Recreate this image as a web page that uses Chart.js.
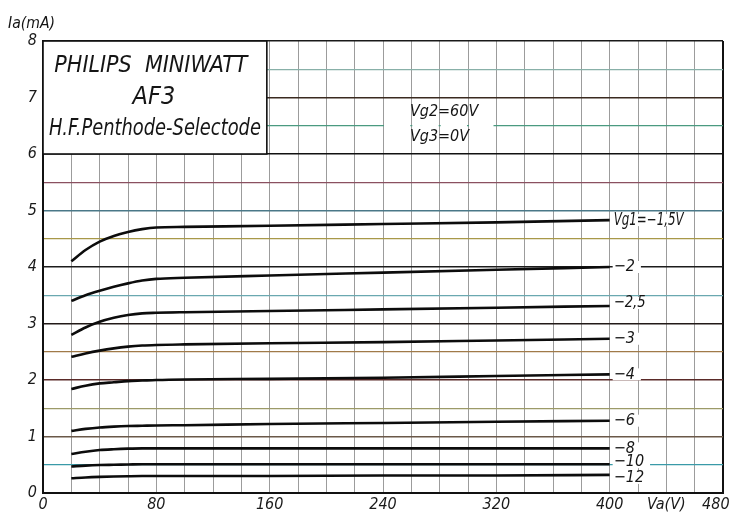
<!DOCTYPE html>
<html>
<head>
<meta charset="utf-8">
<script src="https://cdn.jsdelivr.net/npm/chart.js@4.4.0/dist/chart.umd.min.js"></script>
<style>
html, body { margin: 0; padding: 0; background: #fff; }
#wrap { width: 733px; height: 513px; }
</style>
</head>
<body>
<div id="wrap"><canvas id="chart"></canvas></div>
<script>
var FONT = "'DejaVu Sans Condensed', 'DejaVu Sans', sans-serif";

// anode voltage (V) at which the curves were read
var anodeVolts = [20, 30, 40, 50, 60, 70, 80, 100, 160, 240, 320, 400];

// anode current Ia (mA) for each grid-1 voltage
var ia_m1_5 = [4.10, 4.30, 4.45, 4.55, 4.62, 4.67, 4.70, 4.71, 4.73, 4.76, 4.79, 4.83];
var ia_m2   = [3.40, 3.50, 3.58, 3.65, 3.71, 3.76, 3.79, 3.81, 3.85, 3.90, 3.95, 4.00];
var ia_m2_5 = [2.80, 2.93, 3.03, 3.10, 3.15, 3.18, 3.19, 3.20, 3.22, 3.25, 3.28, 3.31];
var ia_m3   = [2.41, 2.47, 2.52, 2.56, 2.59, 2.61, 2.62, 2.63, 2.65, 2.67, 2.70, 2.73];
var ia_m4   = [1.84, 1.90, 1.94, 1.96, 1.98, 1.99, 2.00, 2.01, 2.02, 2.04, 2.07, 2.10];
var ia_m6   = [1.10, 1.135, 1.16, 1.175, 1.185, 1.19, 1.195, 1.20, 1.22, 1.24, 1.26, 1.28];
var ia_m8   = [0.69, 0.73, 0.76, 0.775, 0.785, 0.79, 0.79, 0.79, 0.79, 0.79, 0.79, 0.79];
var ia_m10  = [0.47, 0.485, 0.495, 0.50, 0.505, 0.51, 0.51, 0.51, 0.51, 0.51, 0.51, 0.51];
var ia_m12  = [0.26, 0.275, 0.285, 0.292, 0.297, 0.30, 0.30, 0.30, 0.30, 0.31, 0.31, 0.32];

var curves = [ia_m1_5, ia_m2, ia_m2_5, ia_m3, ia_m4, ia_m6, ia_m8, ia_m10, ia_m12];
var curveLabels = ['Vg1=\u22121,5V', '\u22122', '\u22122,5', '\u22123', '\u22124', '\u22126', '\u22128', '\u221210', '\u221212'];

// axis tick labels (the em space keeps the last label inside the page)
var xTickLabels = { 0: '0', 80: '80', 160: '160', 240: '240', 320: '320', 400: '400', 440: 'Va(V)', 480: '480\u2003' };
var yTickLabels = { 0: '0', 1: '1', 2: '2', 3: '3', 4: '4', 5: '5', 6: '6', 7: '7', 8: '8' };

var titleLines = ['PHILIPS  MINIWATT', 'AF3', 'H.F.Penthode-Selectode'];
var condLines = ['Vg2=60V', 'Vg3=0V'];

// colours of the horizontal grid lines (printed paper look)
var hGridColors = {
    '0': '#111111', '0.5': '#3a9aa8', '1': '#6a5848', '1.5': '#9c9a68',
    '2': '#5a2a28', '2.5': '#a07a48', '3': '#221a18', '3.5': '#6aa8b0',
    '4': '#1c1c1c', '4.5': '#a89848', '5': '#4a7888', '5.5': '#8a5060',
    '6': '#111111', '6.5': '#4a9a80', '7': '#3a2a20', '7.5': '#88b0a8', '8': '#1a1a1a'
};

function setFont(ctx, size) {
    ctx.font = 'italic ' + size + 'px ' + FONT;
}

function textWidth(ctx, txt, maxW) {
    var w = ctx.measureText(txt).width;
    return maxW ? Math.min(w, maxW) : w;
}

var annotations = {
    id: 'annotations',
    beforeDatasetsDraw: function(chart) {
        var ctx = chart.ctx, xs = chart.scales.x, ys = chart.scales.y;
        ctx.save();

        // type box, top left
        var l = xs.getPixelForValue(0), r = xs.getPixelForValue(158);
        var t = ys.getPixelForValue(8), b = ys.getPixelForValue(6);
        ctx.fillStyle = '#fff';
        ctx.fillRect(l, t, r - l, b - t);
        ctx.strokeStyle = '#111';
        ctx.lineWidth = 1.6;
        ctx.strokeRect(l, t, r - l, b - t);

        ctx.fillStyle = '#151515';
        ctx.textBaseline = 'middle';
        ctx.textAlign = 'center';
        var cx = (l + r) / 2;
        setFont(ctx, 23);
        ctx.fillText(titleLines[0], cx - 4, ys.getPixelForValue(7.55), 196);
        setFont(ctx, 25);
        ctx.fillText(titleLines[1], cx - 1, ys.getPixelForValue(7.0), 44);
        setFont(ctx, 23);
        ctx.fillText(titleLines[2], cx, ys.getPixelForValue(6.45), 212);

        // gap in the 6.5 line behind the screen-grid text
        var y65 = ys.getPixelForValue(6.5);
        [[240, 260], [260, 280], [280, 300], [300, 318]].forEach(function(seg) {
            var a = xs.getPixelForValue(seg[0]) + 1, z = xs.getPixelForValue(seg[1]) - (seg[1] === 318 ? 0 : 1);
            ctx.fillStyle = '#fff';
            ctx.fillRect(a, y65 - 3, z - a, 6);
        });
        ctx.fillStyle = '#151515';
        ctx.textAlign = 'left';
        setFont(ctx, 16);
        var vx = xs.getPixelForValue(259);
        ctx.fillText(condLines[0], vx, ys.getPixelForValue(6.75), 72);
        ctx.fillText(condLines[1], vx, ys.getPixelForValue(6.3), 60);
        ctx.restore();
    },
    afterDatasetsDraw: function(chart) {
        var ctx = chart.ctx, xs = chart.scales.x, ys = chart.scales.y;
        var nudge = [0, 0, -3, 0, 0, 0, 0, -2, 3];
        ctx.save();
        ctx.textBaseline = 'middle';
        ctx.textAlign = 'left';
        var lx = xs.getPixelForValue(400) + 4;
        curves.forEach(function(c, i) {
            setFont(ctx, i === 0 ? 17 : 16);
            var ly = ys.getPixelForValue(c[c.length - 1]) + nudge[i];
            var maxW = i === 0 ? 70 : 32;
            var w = textWidth(ctx, curveLabels[i], maxW);
            ctx.fillStyle = '#fff';
            ctx.fillRect(lx - 1, ly - 6, w + 7, 12);
            ctx.fillStyle = '#151515';
            ctx.fillText(curveLabels[i], lx, ly, maxW);
        });
        ctx.restore();
    },
    afterDraw: function(chart) {
        var ctx = chart.ctx;
        ctx.save();
        setFont(ctx, 16);
        ctx.fillStyle = '#151515';
        ctx.textBaseline = 'middle';
        ctx.textAlign = 'left';
        ctx.fillText('Ia(mA)', 8, 24, 47);
        ctx.restore();
    }
};

new Chart(document.getElementById('chart'), {
    type: 'line',
    data: {
        datasets: curves.map(function(c, i) {
            return {
                label: curveLabels[i],
                data: anodeVolts.map(function(v, j) { return { x: v, y: c[j] }; }),
                borderColor: '#0c0c0c',
                borderWidth: 2.6,
                pointRadius: 0,
                fill: false,
                cubicInterpolationMode: 'monotone'
            };
        })
    },
    options: {
        responsive: true,
        maintainAspectRatio: false,
        animation: false,
        layout: { padding: { top: 41, right: 10, left: 0, bottom: 0 } },
        plugins: {
            legend: { display: false },
            tooltip: { enabled: false }
        },
        scales: {
            x: {
                type: 'linear',
                min: 0,
                max: 480,
                afterFit: function(s) { s.height = 20; s.paddingLeft = 0; s.paddingRight = 0; },
                ticks: {
                    stepSize: 20,
                    autoSkip: false,
                    maxRotation: 0,
                    padding: 2,
                    color: '#1a1a1a',
                    font: { family: FONT, size: 16, style: 'italic' },
                    callback: function(v) { return xTickLabels[v] !== undefined ? xTickLabels[v] : ''; }
                },
                grid: {
                    drawTicks: false,
                    color: function(c) { return c.tick && c.tick.value === 480 ? '#111' : '#9c9c9c'; },
                    lineWidth: function(c) { return c.tick && c.tick.value === 480 ? 2 : 1; }
                },
                border: { color: '#111', width: 2 }
            },
            y: {
                type: 'linear',
                min: 0,
                max: 8,
                afterFit: function(s) { s.width = 43; },
                ticks: {
                    stepSize: 0.5,
                    autoSkip: false,
                    padding: 6,
                    color: '#1a1a1a',
                    font: { family: FONT, size: 16, style: 'italic' },
                    callback: function(v) { return yTickLabels[v] !== undefined ? yTickLabels[v] : ''; }
                },
                grid: {
                    drawTicks: false,
                    color: function(c) { return c.tick ? (hGridColors[String(c.tick.value)] || '#888') : '#888'; },
                    lineWidth: function(c) { return c.tick && c.tick.value % 1 === 0 ? 1.5 : 1.3; }
                },
                border: { color: '#111', width: 2 }
            }
        }
    },
    plugins: [annotations]
});
</script>
</body>
</html>
